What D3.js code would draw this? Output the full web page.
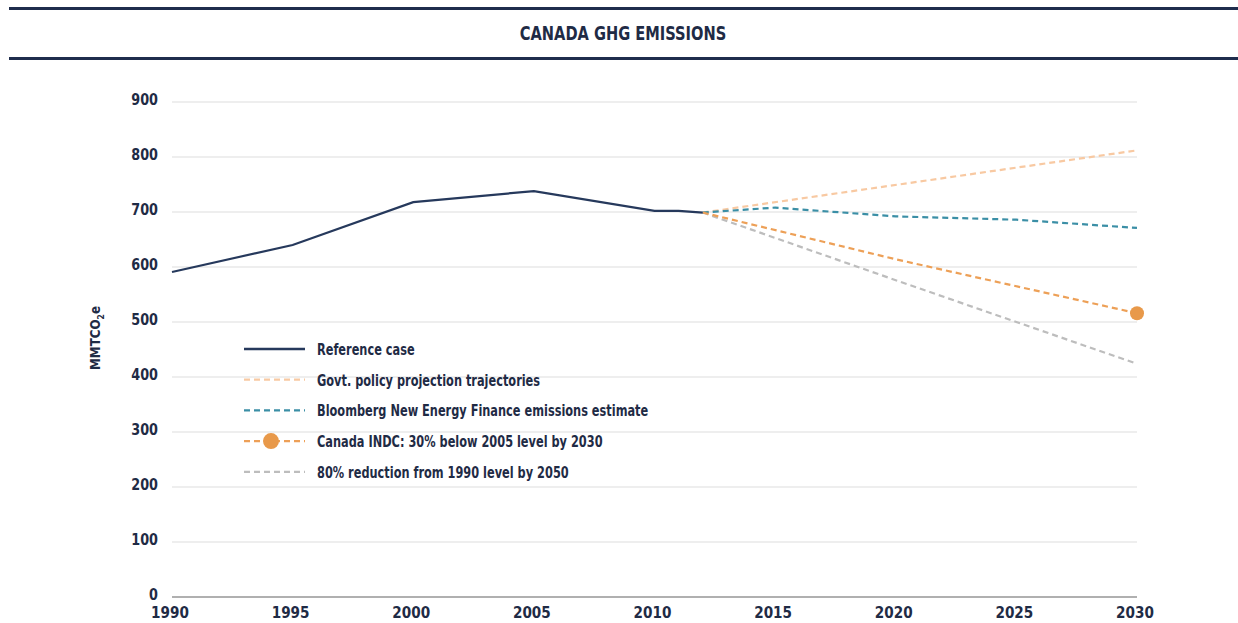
<!DOCTYPE html>
<html>
<head>
<meta charset="utf-8">
<script src="https://cdn.jsdelivr.net/npm/d3@7"></script>
<style>
  body { margin: 0; background: #fff; }
  svg text { font-family: "DejaVu Sans", sans-serif; font-weight: bold; fill: #1f2b45; }
</style>
</head>
<body>
<svg id="my_svg"></svg>
<script>
// data
const refYears = [1990, 1995, 2000, 2005, 2010, 2011, 2012];
const refValues = [591, 640, 718, 738, 702, 702, 699];
const govtYears = [2012, 2030];
const govtValues = [699, 812];
const bnefYears = [2012, 2015, 2020, 2025, 2030];
const bnefValues = [699, 708, 692, 686, 671];
const indcYears = [2012, 2020, 2030];
const indcValues = [699, 614, 516];
const cutYears = [2012, 2020, 2030];
const cutValues = [699, 576, 424];
const yTicks = [0, 100, 200, 300, 400, 500, 600, 700, 800, 900];
const xTicks = [1990, 1995, 2000, 2005, 2010, 2015, 2020, 2025, 2030];
const legendLabels = [
    "Reference case",
    "Govt. policy projection trajectories",
    "Bloomberg New Energy Finance emissions estimate",
    "Canada INDC: 30% below 2005 level by 2030",
    "80% reduction from 1990 level by 2050"
];

const width = 1238, height = 623;
const svg = d3.select('#my_svg').attr('width', width).attr('height', height);

// narrow look: no condensed font installed, so squeeze horizontally
const squeeze = (tx, ty, k) => `translate(${tx},${ty}) scale(${k},1)`;

// header rules + title
svg.append('rect').attr('x', 9).attr('y', 7).attr('width', width - 9).attr('height', 3).attr('fill', '#1f2d4d');
svg.append('rect').attr('x', 9).attr('y', 57).attr('width', width - 9).attr('height', 3).attr('fill', '#1f2d4d');
svg.append('text').attr('transform', squeeze(623, 40, 0.77)).attr('text-anchor', 'middle')
    .style('font-size', '19px').text('CANADA GHG EMISSIONS');

const x = d3.scaleLinear().domain([1990, 2030]).range([172, 1137]);
const y = d3.scaleLinear().domain([0, 900]).range([597, 102]);

// gridlines
svg.append('g').selectAll('line').data(yTicks.filter(d => d > 0)).join('line')
    .attr('x1', x(1990)).attr('x2', x(2030))
    .attr('y1', d => y(d)).attr('y2', d => y(d))
    .attr('stroke', '#e8e8e8').attr('stroke-width', 1.5);

// y axis labels
svg.append('g').selectAll('text').data(yTicks).join('text')
    .attr('transform', d => squeeze(158, y(d) + 3, 0.8)).attr('text-anchor', 'end')
    .style('font-size', '16px').text(d => d);

// x axis
svg.append('line').attr('x1', x(1990)).attr('x2', x(2030)).attr('y1', y(0)).attr('y2', y(0))
    .attr('stroke', '#b0b0b0').attr('stroke-width', 2);
svg.append('g').selectAll('text').data(xTicks).join('text')
    .attr('transform', d => squeeze(x(d) - 2, 618, 0.85)).attr('text-anchor', 'middle')
    .style('font-size', '16px').text(d => d);

// y title
const yt = svg.append('text').attr('transform', 'translate(100,338) rotate(-90) scale(0.85,1)')
    .attr('text-anchor', 'middle').style('font-size', '14px');
yt.append('tspan').text('MMTCO');
yt.append('tspan').attr('dy', 4).style('font-size', '9px').text('2');
yt.append('tspan').attr('dy', -4).text('e');

const line = d3.line().x(d => x(d[0])).y(d => y(d[1]));
const zip = (a, b) => a.map((v, i) => [v, b[i]]);

const series = [
    { pts: zip(govtYears, govtValues), color: '#f8c9a2', dash: '6,4' },
    { pts: zip(cutYears, cutValues), color: '#bdbdbd', dash: '6,4' },
    { pts: zip(bnefYears, bnefValues), color: '#3b8fa6', dash: '6,4' },
    { pts: zip(indcYears, indcValues), color: '#eda057', dash: '6,4' },
    { pts: zip(refYears, refValues), color: '#26395c', dash: null }
];
series.forEach(s => {
    svg.append('path').attr('d', line(s.pts)).attr('fill', 'none')
        .attr('stroke', s.color).attr('stroke-width', 2.2)
        .attr('stroke-dasharray', s.dash);
});
svg.append('circle').attr('cx', x(2030)).attr('cy', y(indcValues[indcValues.length - 1]))
    .attr('r', 7).attr('fill', '#e8994a');

// legend
const legColors = ['#26395c', '#f8c9a2', '#3b8fa6', '#eda057', '#bdbdbd'];
const leg = svg.append('g');
legendLabels.forEach((lab, i) => {
    const ly = 349 + i * 30.7;
    leg.append('line').attr('x1', 244).attr('x2', 305).attr('y1', ly).attr('y2', ly)
        .attr('stroke', legColors[i]).attr('stroke-width', i === 0 ? 2.5 : 2.2)
        .attr('stroke-dasharray', i === 0 ? null : '6,4');
    if (i === 3) {
        leg.append('circle').attr('cx', 271).attr('cy', ly).attr('r', 8).attr('fill', '#e8994a');
    }
    leg.append('text').attr('transform', squeeze(317, ly + 6, 0.71))
        .style('font-size', '16px').text(lab);
});
</script>
</body>
</html>
